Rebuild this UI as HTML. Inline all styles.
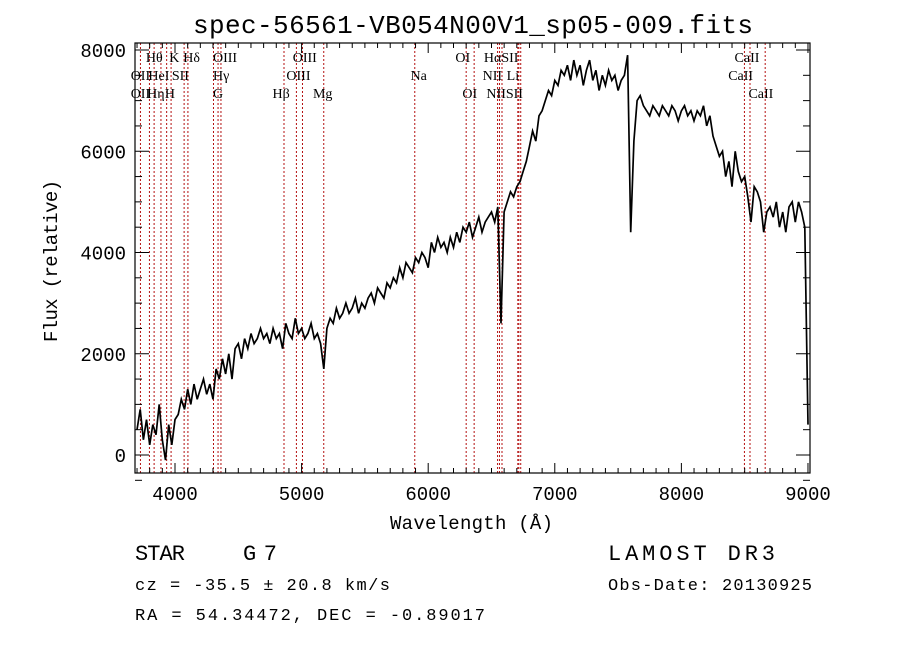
<!DOCTYPE html>
<html><head><meta charset="utf-8"><style>
body{margin:0;background:#fff;}
svg{display:block;}
text{font-family:"Liberation Mono",monospace;fill:#000;}
.ll{font-family:"Liberation Serif",serif;font-size:14px;}
</style></head><body>
<svg id="chart" width="900" height="649" viewBox="0 0 900 649">
<text x="193" y="33" font-size="26" textLength="560">spec-56561-VB054N00V1_sp05-009.fits</text>
<g id="lines"></g>
<g id="axes"></g>
<g id="series"></g>
<rect x="135" y="43" width="675" height="430" fill="none" stroke="#000" stroke-width="1.2"/>
<text x="390" y="529" font-size="19" textLength="163">Wavelength (Å)</text>
<text transform="translate(57,342) rotate(-90)" font-size="19" textLength="162">Flux (relative)</text>
<text x="135" y="560" font-size="22" font-family="Liberation Serif,serif" textLength="50">STAR</text>
<text x="243" y="560" font-size="22" font-family="Liberation Serif,serif" textLength="34">G7</text>
<text x="608" y="560" font-size="22" font-family="Liberation Serif,serif" textLength="167">LAMOST DR3</text>
<text x="135" y="590" font-size="17" textLength="255">cz = -35.5 ± 20.8 km/s</text>
<text x="608" y="590" font-size="17" textLength="204">Obs-Date: 20130925</text>
<text x="135" y="620" font-size="17" textLength="350">RA =  54.34472, DEC =  -0.89017</text>
</svg>
<script>
const xTicks=[4000,5000,6000,7000,8000,9000];
const yTicks=[0,2000,4000,6000,8000];
const lineWaves=[3727,3798,3835,3889,3934,3969,4072,4102,4304,4340,4363,4861,4959,5007,5175,5894,6300,6363,6548,6563,6583,6708,6716,6731,8498,8542,8662];
const labelText=["Hθ","K","Hδ","OIII","OIII","OI","HαSII","CaII","OII","HeI","SII","Hγ","OIII","Na","NII","Li","CaII","OII","Hη","H","G","Hβ","Mg","OI","NIISII","CaII"];
const labelWave=[3770,3955,4065,4300,4930,6215,6440,8420,3650,3790,3975,4300,4880,5860,6430,6620,8370,3650,3780,3920,4300,4770,5090,6270,6460,8530];
const labelRow=[0,0,0,0,0,0,0,0,1,1,1,1,1,1,1,1,1,2,2,2,2,2,2,2,2,2];
const fluxStart=3700, fluxStep=25;
const flux=[500,900,300,700,200,600,400,1000,
300,-100,600,200,700,800,1100,900,
1300,1000,1400,1100,1300,1500,1200,1400,
1100,1700,1500,1900,1600,2000,1500,2100,
2200,1900,2300,2100,2400,2200,2300,2500,
2300,2400,2200,2500,2300,2400,2100,2600,
2400,2300,2700,2400,2500,2300,2400,2600,
2300,2400,2200,1700,2500,2700,2600,2900,
2700,2800,3000,2800,2900,3100,2800,3000,
2900,3100,3200,3000,3300,3200,3100,3400,
3300,3500,3400,3700,3500,3800,3700,3600,
3900,3800,4000,3900,3700,4200,4000,4300,
4100,4200,4000,4300,4100,4400,4200,4500,
4400,4600,4300,4500,4700,4400,4600,4700,
4800,4600,4900,2600,4800,5000,5200,5100,
5300,5400,5600,5800,6100,6400,6200,6700,
6800,7000,7200,7100,7400,7300,7600,7500,
7700,7400,7800,7500,7700,7300,7600,7800,
7400,7600,7200,7500,7300,7600,7400,7500,
7200,7400,7500,7900,4400,6200,7000,7100,
6900,6800,6700,6900,6800,6700,6900,6800,
6700,6900,6800,6600,6800,6900,6700,6800,
6600,6800,6700,6900,6500,6700,6300,6100,
5900,6000,5500,5800,5300,6000,5600,5400,
5500,5100,4600,5300,5200,5000,4400,4800,
4900,4700,5000,4500,4800,4400,4900,5000,
4600,5000,4800,4500,600];
const X0=135,X1=810,Y0=43,Y1=473;
const xmin=3684,xmax=9016;
function sx(w){return X0+(w-xmin)/(xmax-xmin)*(X1-X0);}
function sy(f){return 455-(f/8000)*405;}
const NS="http://www.w3.org/2000/svg";
function mk(tag,attrs,parent){const e=document.createElementNS(NS,tag);for(const k in attrs)e.setAttribute(k,attrs[k]);parent.appendChild(e);return e;}
const axes=document.getElementById('axes');
for(let w=3700;w<=9000;w+=100){
  const major=xTicks.includes(w);const L=major?10:5;const x=sx(w);
  const t1=mk('line',{x1:x,x2:x,y1:Y1,y2:Y1-L,stroke:'#000'},axes);
  
  
  const t2=mk('line',{x1:x,x2:x,y1:Y0,y2:Y0+L,stroke:'#000'},axes);
  
  
}
xTicks.forEach(v=>{
  const t=mk('text',{x:sx(v),y:500,'font-size':19,'text-anchor':'middle'},axes);t.textContent=v;
  
  
});
for(let f=-500;f<=8000;f+=500){
  const major=yTicks.includes(f);const L=major?14:7;const y=sy(f);
  const t1=mk('line',{x1:X0,x2:X0+L,y1:y,y2:y,stroke:'#000'},axes);
  
  
  const t2=mk('line',{x1:X1,x2:X1-L,y1:y,y2:y,stroke:'#000'},axes);
  
  
}
yTicks.forEach(v=>{
  const t=mk('text',{x:126,y:sy(v)+7,'font-size':19,'text-anchor':'end'},axes);t.textContent=v;
  
  
});
const lg=document.getElementById('lines');
lineWaves.forEach(w=>{
  const l=mk('line',{x1:sx(w),x2:sx(w),y1:Y0,y2:Y1,stroke:'#b41010','stroke-width':1,'stroke-dasharray':'2,2'},lg);
  
  
});
labelText.forEach((s,i)=>{
  const t=mk('text',{x:sx(labelWave[i]),y:62+labelRow[i]*18,class:'ll'},lg);t.textContent=s;
  
  
});
const pts=flux.map((f,i)=>sx(fluxStart+i*fluxStep).toFixed(1)+','+sy(f).toFixed(1)).join(' ');
const pl=mk('polyline',{points:pts,fill:'none',stroke:'#000','stroke-width':1.7},document.getElementById('series'));


</script>
</body></html>
